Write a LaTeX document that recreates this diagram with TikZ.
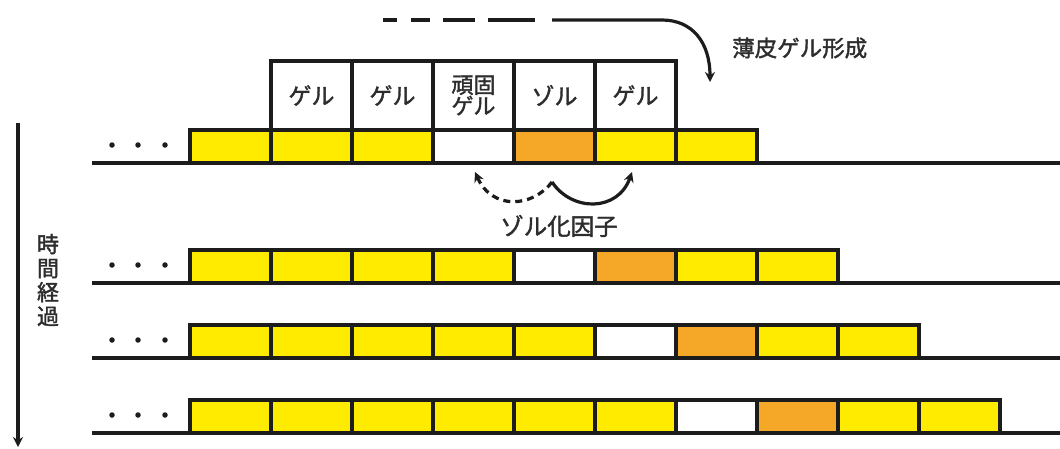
\documentclass[tikz,border=0pt]{standalone}
\usepackage{fontspec}
\newfontfamily\jp[FakeBold=1.6]{Noto Sans CJK JP}
\usetikzlibrary{arrows.meta}
\definecolor{cyel}{RGB}{255,235,0}
\definecolor{corg}{RGB}{245,168,40}
\definecolor{ink}{RGB}{28,28,28}
\definecolor{tink}{RGB}{45,45,45}
\begin{document}
\begin{tikzpicture}[x=1pt,y=-1pt,
  cell/.style={draw=ink,line width=3.4pt,minimum width=81pt,minimum height=33pt,inner sep=0pt,outer sep=0pt,anchor=north west},
  upcell/.style={cell,minimum height=69pt,fill=white,text=tink,font=\jp\fontsize{23}{24}\selectfont,align=center},
  baseline/.style={draw=ink,line width=3.4pt},
  conn/.style={draw=ink,line width=3.2pt,-{Stealth[length=10pt,width=10pt]}},
  dotmark/.style={circle,fill=ink,inner sep=0pt,minimum size=5.5pt},
  lbl/.style={text=tink,inner sep=0pt,font=\jp\fontsize{22.5}{24}\selectfont}]
\useasboundingbox (0,0) rectangle (1060,448);
\fill[white] (0,0) rectangle (1060,448);
% rows
\foreach \row/\top/\cols/\w/\o in {1/130/7/4/5, 2/250/8/5/6, 3/325/9/6/7, 4/400/10/7/8}{
  \pgfmathtruncatemacro{\bot}{\top+33}
  \pgfmathtruncatemacro{\dy}{\top+15}
  \coordinate (r\row L) at (92,\bot);
  \coordinate (r\row R) at (1060,\bot);
  \draw[baseline] (r\row L) -- (r\row R);
  \node[dotmark] (d\row a) at (112,\dy) {};
  \node[dotmark] (d\row b) at (138,\dy) {};
  \node[dotmark] (d\row c) at (165,\dy) {};
  \foreach \c in {1,...,\cols}{
    \def\fc{cyel}
    \ifnum\c=\w \def\fc{white}\fi
    \ifnum\c=\o \def\fc{corg}\fi
    \pgfmathtruncatemacro{\xx}{190+81*(\c-1)}
    \node[cell,fill=\fc] (r\row c\c) at (\xx,\top) {};
  }
}
% upper gel boxes
\node[upcell] (u1) at (271,61) {ゲル};
\node[upcell] (u2) at (352,61) {ゲル};
\node[upcell,font=\jp\fontsize{22}{21}\selectfont] (u3) at (433,61) {頑固\\ゲル};
\node[upcell] (u4) at (514,61) {ゾル};
\node[upcell] (u5) at (595,61) {ゲル};
% thin gel formation line
\draw[ink,line width=3.4pt] (383,20) -- (397,20);
\draw[ink,line width=3.4pt] (411,20) -- (430,20);
\draw[ink,line width=3.4pt] (443,20) -- (475,20);
\draw[ink,line width=3.4pt] (488,20) -- (535,20);
\coordinate (t0) at (552,20);
\coordinate (t1) at (710,82);
\draw[conn] (t0) -- (662,20) .. controls (692,20) and (710,42) .. (t1);
\node[lbl,anchor=west] (tlabel) at (732,48) {薄皮ゲル形成};
% sol factor
\coordinate (s0) at (552,182);
\coordinate (sl) at (475,172);
\coordinate (sr) at (632,172);
\draw[conn,dash pattern=on 7pt off 5pt] (s0) .. controls (532,208) and (492,210) .. (sl);
\draw[conn] (s0) .. controls (572,212) and (618,212) .. (sr);
\node[lbl,font=\jp\fontsize{23.5}{24}\selectfont] (slabel) at (559,226) {ゾル化因子};
% time arrow
\coordinate (a0) at (18,123);
\coordinate (a1) at (18,447);
\draw[conn] (a0) -- (a1);
\node[lbl,align=center,font=\jp\fontsize{22}{24}\selectfont] (tlab) at (48,280) {時\\間\\経\\過};
\end{tikzpicture}
\end{document}
